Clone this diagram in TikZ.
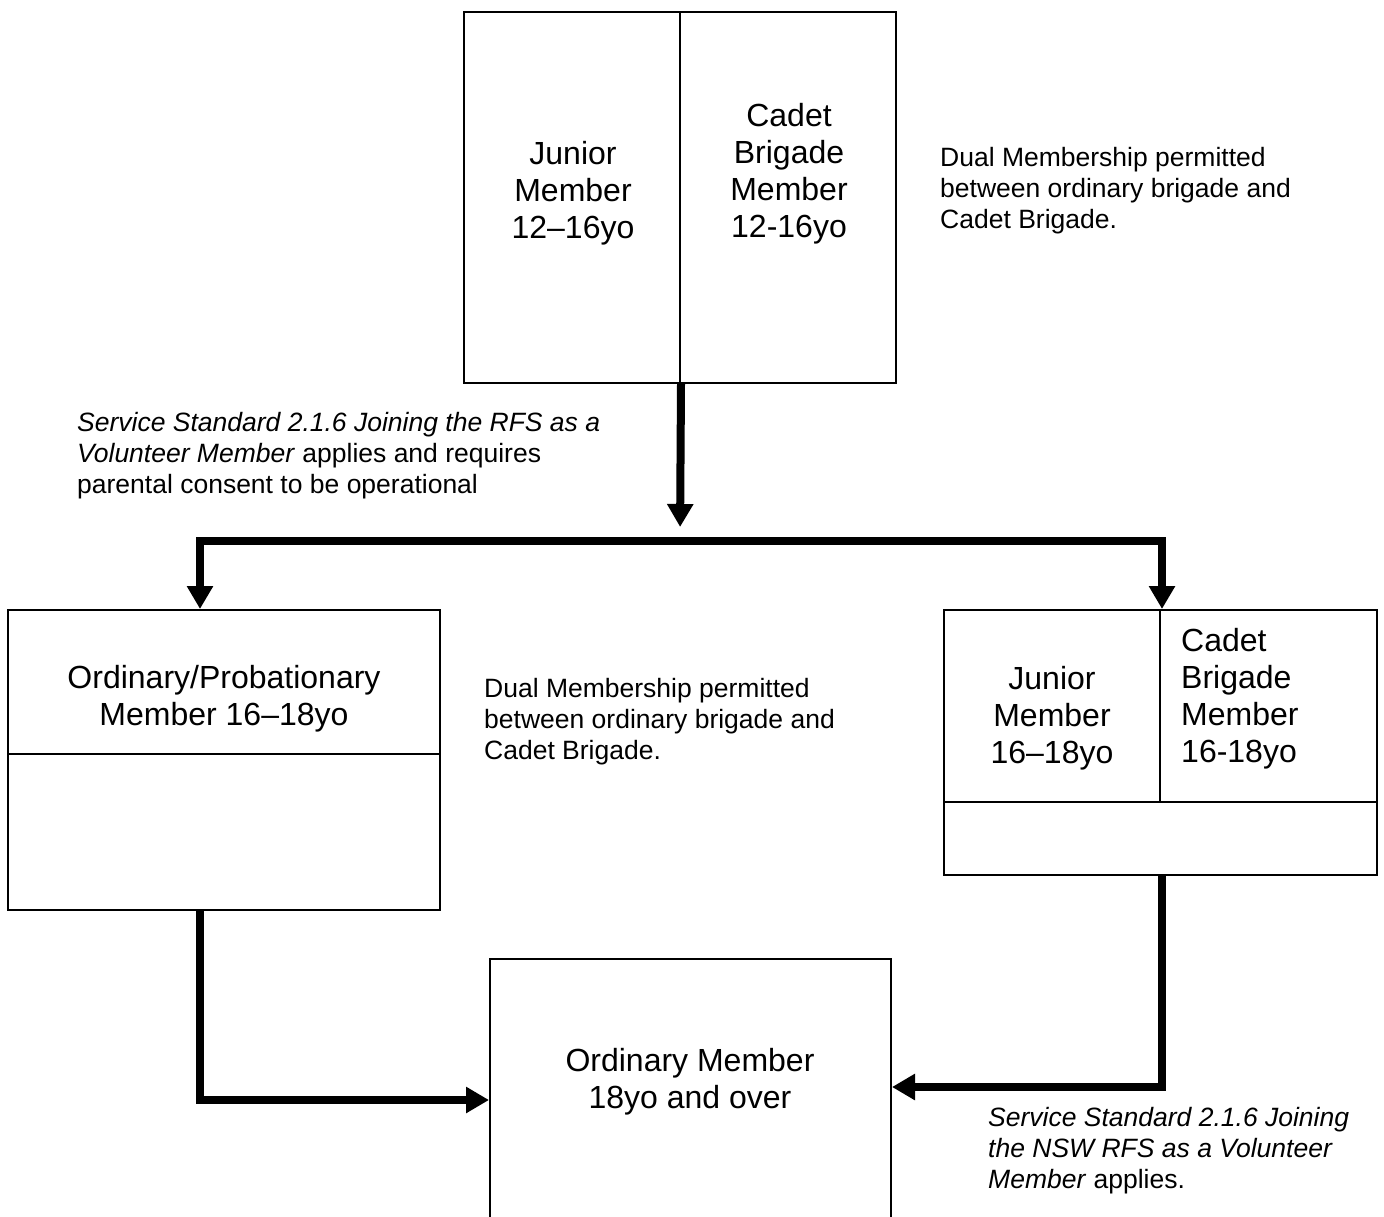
\documentclass[tikz,border=0pt]{standalone}
\usepackage{fontspec}
\setmainfont{Liberation Sans}
\usetikzlibrary{arrows.meta}

\begin{document}
\begin{tikzpicture}[x=1pt,y=1pt]
\tikzstyle{every node}+=[inner sep=0pt]
\tikzstyle{cell}=[draw=black, line width=2pt, rectangle]
\tikzstyle{flow}=[line width=8pt, -{Triangle[width=25pt,length=23pt]}]
\tikzstyle{big}=[font=\fontsize{32}{37}\selectfont, align=center]
\tikzstyle{note}=[font=\fontsize{26.5}{31}\selectfont, align=left, anchor=west]
\useasboundingbox (0,0) rectangle (1384,-1217);
% top box
\node[cell, minimum width=216, minimum height=371] (jun1) at (572,-197.5) {};
\node[cell, minimum width=216, minimum height=371] (cad1) at (788,-197.5) {};
\node[big] (jun1txt) at (573,-193) {Junior\\Member\\12–16yo};
\node[big] (cad1txt) at (789,-174) {Cadet\\Brigade\\Member\\12-16yo};
\node[note] (dual1) at (940,-191) {Dual Membership permitted\\between ordinary brigade and\\Cadet Brigade.};
% left box
\node[cell, minimum width=432, minimum height=144] (prob) at (224,-682) {};
\node[cell, minimum width=432, minimum height=156] (probx) at (224,-832) {};
\node[big] (probtxt) at (224,-699) {Ordinary/Probationary\\Member 16–18yo};
\node[note] (dual2) at (484,-722) {Dual Membership permitted\\between ordinary brigade and\\Cadet Brigade.};
% right box
\node[cell, minimum width=216, minimum height=192] (jun2) at (1052,-706) {};
\node[cell, minimum width=217, minimum height=192] (cad2) at (1268.5,-706) {};
\node[cell, minimum width=433, minimum height=73] (jun2x) at (1160.5,-838.5) {};
\node[big] (jun2txt) at (1052,-718) {Junior\\Member\\16–18yo};
\node[big, align=left, anchor=west] (cad2txt) at (1181,-699) {Cadet\\Brigade\\Member\\16-18yo};
% bottom box
\node[cell, minimum width=401, minimum height=282] (ord) at (690.5,-1100) {};
\node[big] (ordtxt) at (690,-1082) {Ordinary Member\\18yo and over};
% notes
\node[note] (join1) at (77,-456) {\textit{Service Standard 2.1.6 Joining the RFS as a}\\\textit{Volunteer Member} applies and requires\\parental consent to be operational};
\node[note] (join2) at (988,-1151) {\textit{Service Standard 2.1.6 Joining}\\\textit{the NSW RFS as a Volunteer}\\\textit{Member} applies.};
% connectors
\coordinate (split) at (680,-541);
\coordinate (barL) at (200,-541);
\coordinate (barR) at (1162,-541);
\draw[flow, shorten >=14pt] (jun1.south east) -- (split);
\draw[flow] (split) -- (barL) -- (barL |- prob.north);
\draw[flow] (split) -- (barR) -- (barR |- jun2.north);
\draw[flow] (barL |- probx.south) |- (ord.west);
\draw[flow] (barR |- jun2x.south) |- ([yshift=13pt]ord.east);
\end{tikzpicture}
\end{document}
